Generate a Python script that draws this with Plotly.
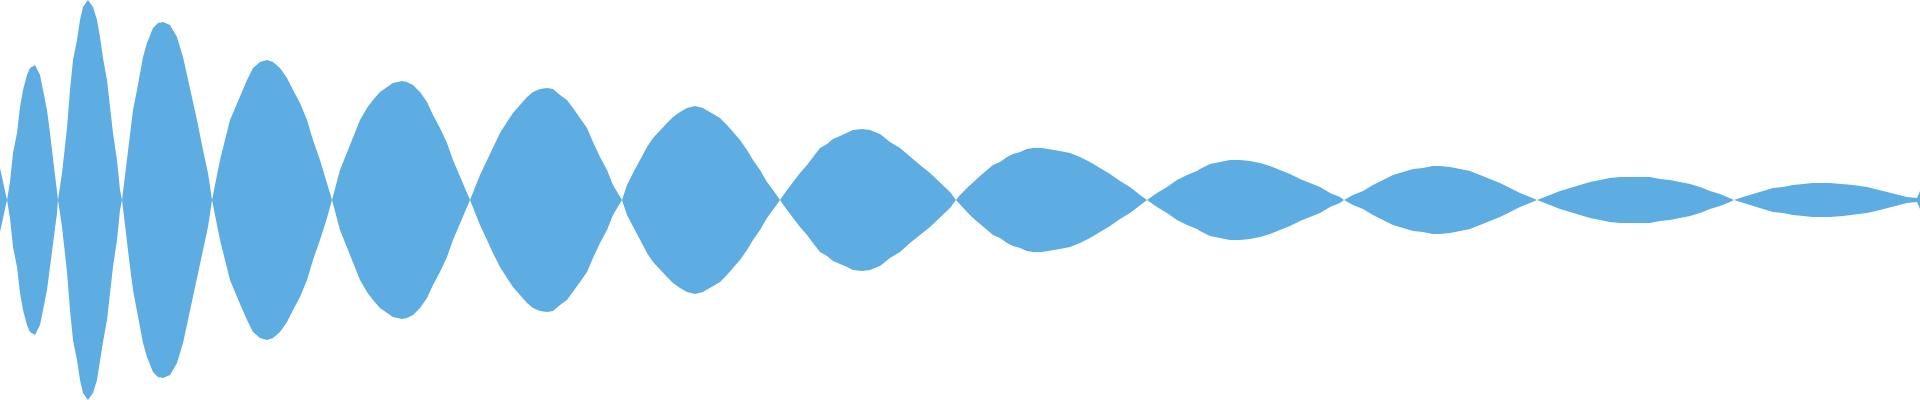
import plotly.graph_objects as go

# positions along the waveform (sample index) and the upper envelope amplitude (0..1)
position = [
    0, 7, 10, 13, 17, 20, 23, 27, 30, 35, 40, 43, 47, 50, 53, 57, 58,
    62, 67, 70, 73, 77, 80, 83, 88, 93, 97, 100, 103, 107, 110, 113, 117, 120, 122,
    127, 130, 133, 137, 140, 143, 147, 153, 158, 163, 170, 177, 183, 190, 197, 203, 208, 212,
    220, 230, 240, 247, 253, 260, 267, 273, 280, 287, 293, 300, 307, 313, 320, 327, 332,
    340, 347, 353, 360, 367, 373, 380, 387, 393, 402, 407, 413, 420, 427, 433, 440, 447, 453, 460, 467, 470,
    480, 487, 493, 500, 507, 513, 520, 527, 533, 540, 547, 553, 560, 567, 573, 580, 587, 593, 600, 607, 613, 622,
    627, 633, 640, 647, 653, 660, 667, 673, 680, 687, 695, 703, 710, 720, 727, 733, 740, 747, 753, 760, 767, 773, 780,
    787, 793, 800, 807, 813, 820, 827, 833, 840, 847, 853, 862, 870, 880, 890, 900, 910, 920, 930, 940, 950, 956,
    960, 967, 973, 980, 987, 993, 1000, 1007, 1013, 1020, 1027, 1033, 1042, 1050, 1060, 1070, 1080, 1090, 1100,
    1110, 1120, 1130, 1140, 1147,
    1157, 1167, 1177, 1187, 1197, 1200, 1210, 1220, 1230, 1240, 1250, 1260, 1270, 1280, 1290, 1300, 1310, 1320,
    1330, 1340, 1344,
    1353, 1363, 1373, 1383, 1393, 1403, 1413, 1423, 1433, 1440, 1450, 1460, 1470, 1480, 1490, 1500, 1510, 1520,
    1530, 1537,
    1550, 1560, 1570, 1580, 1590, 1600, 1610, 1620, 1630, 1640, 1650, 1660, 1670, 1680, 1690, 1700, 1710, 1720,
    1730, 1734,
    1743, 1753, 1763, 1773, 1783, 1793, 1803, 1813, 1830, 1843, 1853, 1867, 1880, 1893, 1907, 1917, 1920,
]
amplitude = [
    0.16, 0, 0.09, 0.235, 0.335, 0.465, 0.55, 0.625, 0.66, 0.675, 0.625, 0.55, 0.45, 0.335, 0.215, 0.065, 0,
    0.135, 0.36, 0.55, 0.70, 0.80, 0.90, 0.965, 1.0, 0.965, 0.90, 0.815, 0.71, 0.60, 0.465, 0.335, 0.20, 0.05, 0,
    0.20, 0.335, 0.45, 0.55, 0.635, 0.715, 0.785, 0.86, 0.885, 0.89, 0.875, 0.815, 0.715, 0.565, 0.40, 0.25, 0.135, 0,
    0.20, 0.40, 0.52, 0.60, 0.66, 0.69, 0.70, 0.69, 0.66, 0.61, 0.55, 0.485, 0.40, 0.30, 0.20, 0.09, 0,
    0.15, 0.235, 0.315, 0.40, 0.46, 0.50, 0.54, 0.565, 0.585, 0.595, 0.59, 0.575, 0.54, 0.49, 0.425, 0.36, 0.285,
    0.20, 0.115, 0.035, 0,
    0.125, 0.20, 0.265, 0.335, 0.39, 0.435, 0.475, 0.515, 0.54, 0.555, 0.56, 0.555, 0.525, 0.50, 0.46, 0.41, 0.36,
    0.29, 0.215, 0.15, 0.075, 0,
    0.075, 0.135, 0.20, 0.265, 0.31, 0.35, 0.385, 0.415, 0.44, 0.46, 0.47, 0.46, 0.44, 0.41, 0.375, 0.34, 0.30,
    0.25, 0.20, 0.15, 0.09, 0.05, 0,
    0.05, 0.09, 0.135, 0.175, 0.215, 0.26, 0.28, 0.305, 0.32, 0.335, 0.35, 0.355, 0.35, 0.33, 0.29, 0.26, 0.215,
    0.175, 0.135, 0.09, 0.04, 0,
    0.025, 0.06, 0.09, 0.12, 0.15, 0.175, 0.19, 0.215, 0.23, 0.24, 0.255, 0.26, 0.26, 0.255, 0.245, 0.235, 0.215,
    0.19, 0.16, 0.13, 0.095, 0.065, 0.025, 0,
    0.035, 0.065, 0.10, 0.125, 0.145, 0.155, 0.18, 0.19, 0.20, 0.20, 0.195, 0.185, 0.17, 0.15, 0.13, 0.105, 0.085,
    0.065, 0.035, 0.015, 0,
    0.025, 0.045, 0.075, 0.10, 0.125, 0.14, 0.155, 0.16, 0.17, 0.17, 0.165, 0.155, 0.145, 0.125, 0.105, 0.085,
    0.06, 0.035, 0.015, 0,
    0.025, 0.045, 0.06, 0.075, 0.09, 0.10, 0.11, 0.115, 0.115, 0.115, 0.115, 0.105, 0.10, 0.09, 0.08, 0.065,
    0.045, 0.03, 0.01, 0,
    0.015, 0.03, 0.045, 0.06, 0.065, 0.075, 0.08, 0.085, 0.085, 0.08, 0.075, 0.065, 0.05, 0.035, 0.015, 0.01, 0.045,
]

# mirror the envelope to get a closed waveform shape
xs = position + position[::-1]
ys = amplitude + [-a for a in amplitude[::-1]]

fig = go.Figure()
fig.add_trace(go.Scatter(
    x=xs, y=ys,
    mode="lines",
    fill="toself",
    fillcolor="#5DADE2",
    line=dict(width=0, color="#5DADE2"),
    hoverinfo="skip",
))
fig.update_layout(
    width=1920, height=400,
    margin=dict(l=0, r=0, t=0, b=0),
    paper_bgcolor="white", plot_bgcolor="white",
    showlegend=False,
    xaxis=dict(visible=False, range=[0, 1920], fixedrange=True),
    yaxis=dict(visible=False, range=[-1, 1], fixedrange=True),
)
# drop the default page margin so the plot sits flush in the window
fig.write_html(
    "out.html",
    config={"displayModeBar": False},
    post_script="document.body.style.margin='0';document.body.style.overflow='hidden';",
)
